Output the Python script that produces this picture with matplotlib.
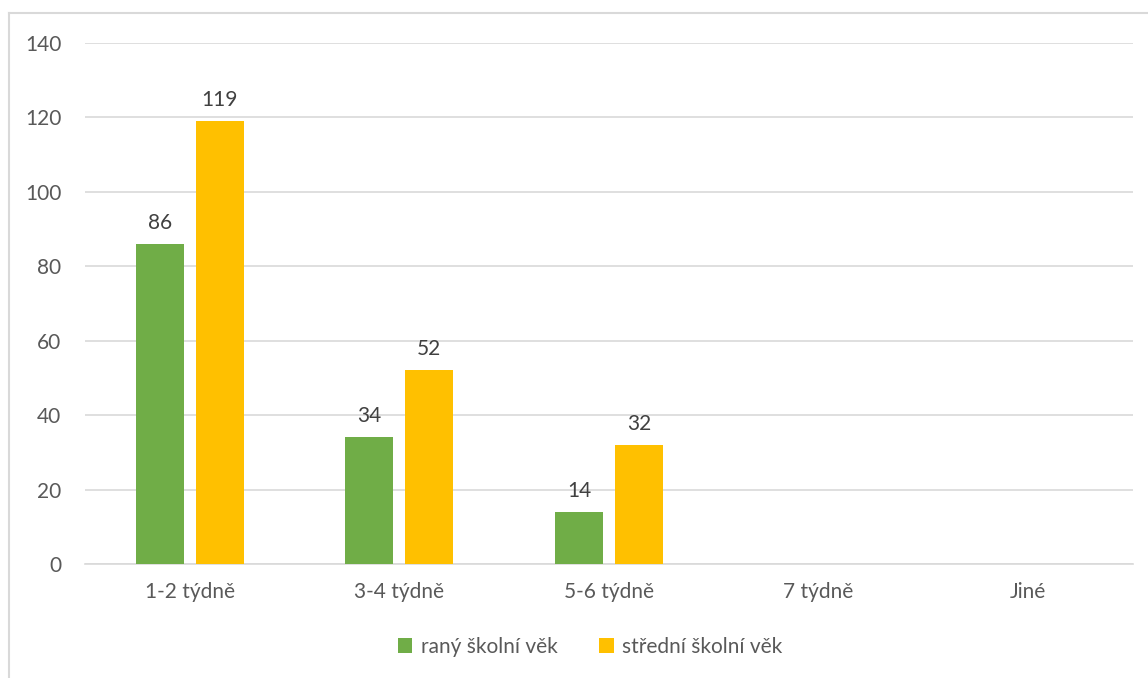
import matplotlib.pyplot as plt
from matplotlib.lines import Line2D
import numpy as np

# data
categories = ['1-2 týdně', '3-4 týdně', '5-6 týdně', '7 týdně', 'Jiné']
series_names = ['raný školní věk', 'střední školní věk']
rany = [86, 34, 14, 0, 0]
stredni = [119, 52, 32, 0, 0]

COLOR_RANY = '#70ad47'
COLOR_STREDNI = '#ffc000'
TEXT_COLOR = '#595959'
GRID_COLOR = '#d9d9d9'
FS = 15

plt.rcParams['font.family'] = ['Lato', 'DejaVu Sans']

fig = plt.figure(figsize=(11.48, 6.78), dpi=100)
ax = fig.add_axes([85 / 1148, 1 - 564 / 678, 1048 / 1148, 521 / 678])

# chart border (only top and left visible in the crop)
fig.add_artist(Line2D([9 / 1148, 9 / 1148], [0, 1 - 13 / 678], transform=fig.transFigure,
                      color=GRID_COLOR, lw=1.5))
fig.add_artist(Line2D([9 / 1148, 1], [1 - 13 / 678, 1 - 13 / 678], transform=fig.transFigure,
                      color=GRID_COLOR, lw=1.5))

x = np.arange(len(categories))
w = 0.229
gap = 0.057
off = (w + gap) / 2
b1 = ax.bar(x - off, rany, w, color=COLOR_RANY, label=series_names[0], zorder=3)
b2 = ax.bar(x + off, stredni, w, color=COLOR_STREDNI, label=series_names[1], zorder=3)

for bars, vals in ((b1, rany), (b2, stredni)):
    for rect, v in zip(bars, vals):
        if v > 0:
            ax.annotate(str(v), (rect.get_x() + rect.get_width() / 2, v),
                        xytext=(0, 8), textcoords='offset points', ha='center', va='bottom',
                        fontsize=FS, color='#404040')

ax.set_xlim(-0.5, len(categories) - 0.5)
ax.set_ylim(0, 140)
ax.set_yticks(range(0, 141, 20))
ax.set_xticks(x)
ax.set_xticklabels(categories)
ax.yaxis.grid(True, color=GRID_COLOR, lw=1.2, zorder=0)
ax.tick_params(axis='both', length=0, labelsize=FS, labelcolor=TEXT_COLOR)
ax.tick_params(axis='y', pad=17)
ax.tick_params(axis='x', pad=13)
for s in ['top', 'right', 'left']:
    ax.spines[s].set_visible(False)
ax.spines['bottom'].set_color(GRID_COLOR)
ax.spines['bottom'].set_linewidth(1.2)

leg = fig.legend(loc='center', bbox_to_anchor=(590 / 1148, 1 - 647 / 678), ncol=2, frameon=False,
                 fontsize=FS, handlelength=0.7, handleheight=0.7, handletextpad=0.4,
                 columnspacing=2.0, labelcolor=TEXT_COLOR)

fig.savefig('out.png', dpi=100)
